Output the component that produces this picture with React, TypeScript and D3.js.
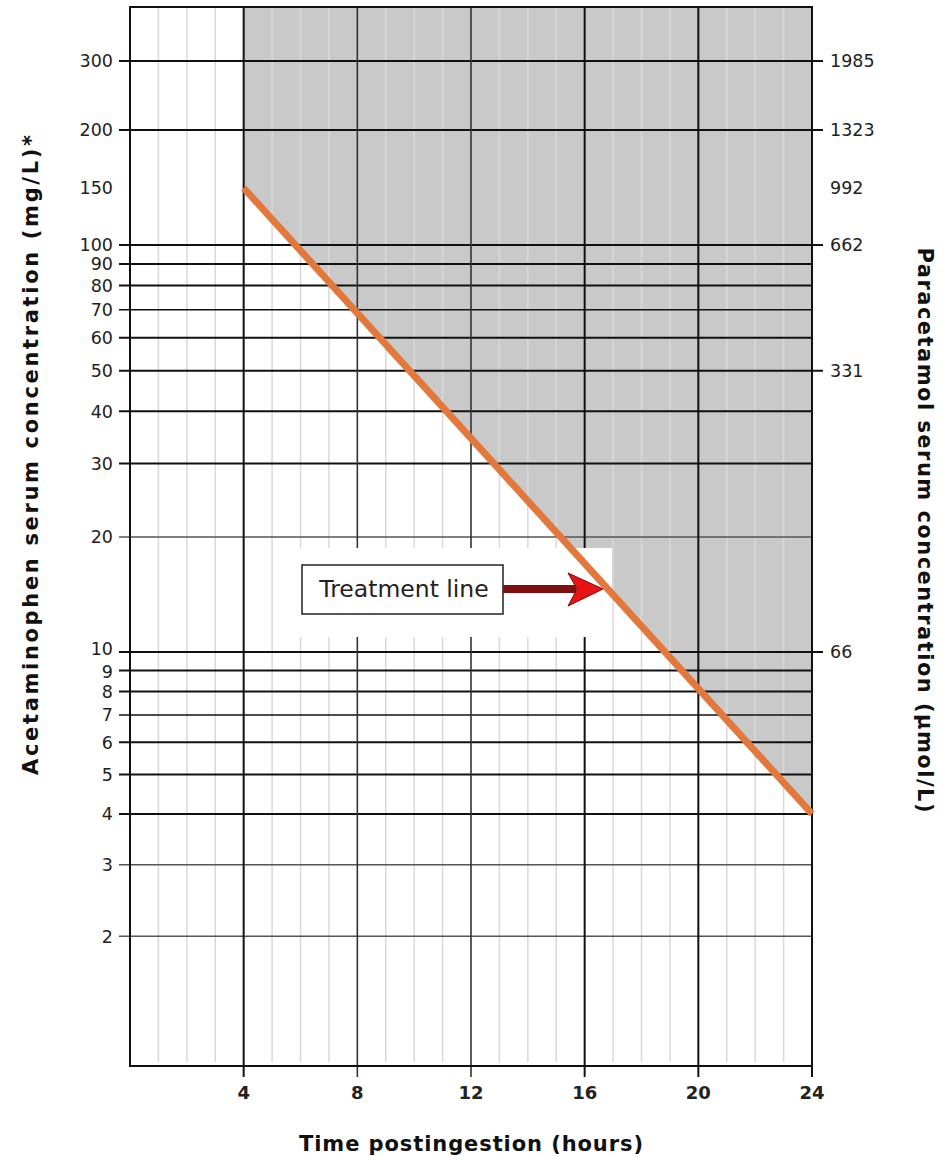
import * as d3 from "d3";

// x axis (hours)
const majorHours = [4, 8, 12, 16, 20, 24];
const lightMajorHours = [8, 12];
const minorHours = [1, 2, 3, 5, 6, 7, 9, 10, 11, 13, 14, 15, 17, 18, 19, 21, 22, 23];

// left axis (mg/L)
const mgLabels = [300, 200, 150, 100, 90, 80, 70, 60, 50, 40, 30, 20, 10, 9, 8, 7, 6, 5, 4, 3, 2];
const mgLines = [300, 200, 100, 90, 80, 70, 60, 50, 40, 30, 20, 10, 9, 8, 7, 6, 5, 4, 3, 2];
const mgLightLines = [20, 3, 2];
const mgThinLines = [70, 7];

// right axis (umol/L)
const umolAt = [300, 200, 150, 100, 50, 10];
const umolLabels = ["1985", "1323", "992", "662", "331", "66"];
const umolTicked = [300, 200, 100, 50, 10];

// treatment line
const treatmentHours = [4, 24];
const treatmentMg = [150, 4];

const W = 950;
const H = 1157;
const left = 130;
const right = 812;
const top = 7;
const bottom = 1066;

const font = "'DejaVu Sans', Verdana, sans-serif";

export default function App() {
  const x = d3.scaleLinear().domain([0, 24]).range([left, right]);
  // log scale calibrated piecewise to the printed nomogram
  const y = d3
    .scaleLog()
    .domain([0.96, 10, 20, 100, 150, 200, 300, 414])
    .range([bottom, 652, 537, 245, 188, 130, 61, top]);

  const pts = treatmentHours.map((h, i) => ({ h, c: treatmentMg[i] }));
  const area = d3
    .area<{ h: number; c: number }>()
    .x((d) => x(d.h))
    .y0(top)
    .y1((d) => y(d.c));
  const line = d3
    .line<{ h: number; c: number }>()
    .x((d) => x(d.h))
    .y((d) => y(d.c));

  // small nudges so the crowded 10 / 9 labels don't collide
  const labelNudge = (v: number) => (v === 10 ? -3 : v === 9 ? 1 : 0);

  return (
    <svg
      width={W}
      height={H}
      style={{ position: "absolute", left: 0, top: 0, display: "block", background: "#fff" }}
    >
      <path d={area(pts) || ""} fill="#c9c9c9" />

      {minorHours.map((h) => (
        <line key={"m" + h} x1={x(h)} x2={x(h)} y1={top} y2={bottom - 4} stroke="#d9d9d9" strokeWidth={1.5} />
      ))}

      {mgLines.map((v) => {
        const light = mgLightLines.includes(v);
        const thin = mgThinLines.includes(v);
        return (
          <line
            key={"h" + v}
            x1={left - 11}
            x2={umolTicked.includes(v) ? right + 11 : right}
            y1={y(v)}
            y2={y(v)}
            stroke={light ? "#555" : "#111"}
            strokeWidth={light ? 1.5 : thin ? 1.6 : 2}
          />
        );
      })}

      {majorHours.map((h) => {
        const light = lightMajorHours.includes(h);
        return (
          <line
            key={"v" + h}
            x1={x(h)}
            x2={x(h)}
            y1={top}
            y2={bottom + 11}
            stroke={light ? "#333" : "#111"}
            strokeWidth={light ? 1.6 : 2}
          />
        );
      })}

      <rect x={left} y={top} width={right - left} height={bottom - top} fill="none" stroke="#111" strokeWidth={2} />

      {/* backdrop behind the annotation */}
      <rect x={288} y={548} width={324} height={89} fill="#fff" />

      <path d={line(pts) || ""} fill="none" stroke="#e2783c" strokeWidth={7} />

      <g fontFamily={font} fill="#222">
        {mgLabels.map((v) => (
          <text key={"l" + v} x={113} y={y(v) + labelNudge(v)} dy="0.36em" textAnchor="end" fontSize={17.5}>
            {v}
          </text>
        ))}
        {umolAt.map((v, i) => (
          <text key={"r" + v} x={830} y={y(v)} dy="0.36em" fontSize={17.5}>
            {umolLabels[i]}
          </text>
        ))}
        {majorHours.map((h) => (
          <text key={"b" + h} x={x(h)} y={1093} dy="0.36em" textAnchor="middle" fontSize={18} fontWeight="bold">
            {h}
          </text>
        ))}
        <text
          x={471}
          y={1143}
          dy="0.36em"
          textAnchor="middle"
          fontSize={21}
          fontWeight="bold"
          fill="#111"
          textLength={344}
          lengthAdjust="spacing"
        >
          Time postingestion (hours)
        </text>
        <text
          transform="translate(30,455) rotate(-90)"
          dy="0.36em"
          textAnchor="middle"
          fontSize={21}
          fontWeight="bold"
          fill="#111"
          textLength={640}
          lengthAdjust="spacing"
        >
          Acetaminophen serum concentration (mg/L)*
        </text>
        <text
          transform="translate(926,530) rotate(90)"
          dy="0.36em"
          textAnchor="middle"
          fontSize={21}
          fontWeight="bold"
          fill="#111"
          textLength={565}
          lengthAdjust="spacing"
        >
          Paracetamol serum concentration (µmol/L)
        </text>
      </g>

      <rect x={302} y={565} width={201} height={49} fill="#fff" stroke="#222" strokeWidth={1.5} />
      <text x={404} y={589} dy="0.36em" textAnchor="middle" fontFamily={font} fontSize={23.5} fill="#222">
        Treatment line
      </text>
      <line x1={503} x2={576} y1={589} y2={589} stroke="#7e1010" strokeWidth={8} />
      <polygon points="568,573 603,589 568,606 577,589" fill="#e81414" stroke="#7a0a0a" strokeWidth={1} />
    </svg>
  );
}
